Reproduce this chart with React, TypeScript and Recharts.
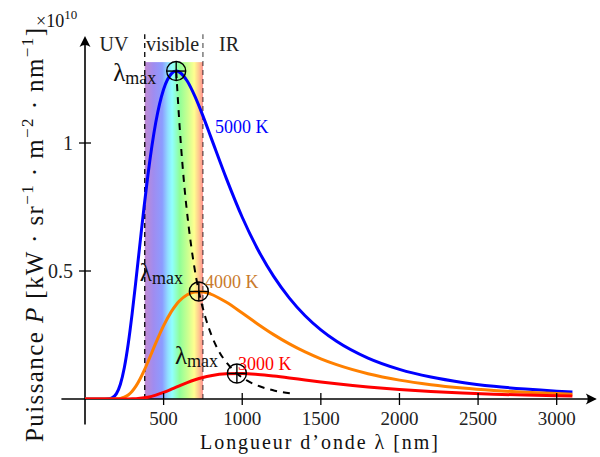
import React from 'react';
import {
  ComposedChart,
  Line,
  XAxis,
  YAxis,
  ReferenceArea,
  ReferenceLine,
  ReferenceDot,
  Scatter,
} from 'recharts';

const FONT = '"Liberation Serif", "DejaVu Serif", serif';

// ---------- data ----------
const wavelengths = [
  0, 100, 150, 175, 200, 225, 250, 275, 300, 325, 350, 375, 400, 450, 500, 550, 580, 600, 650, 700,
  750, 800, 900, 1000, 1100, 1200, 1300, 1400, 1500, 1600, 1800, 2000, 2200, 2400, 2600, 2800, 3000, 3100,
];
const power5000 = [
  0, 0, 0.0007, 0.0053, 0.021, 0.0577, 0.1223, 0.216, 0.3345, 0.469, 0.609, 0.747, 0.874, 1.08, 1.21,
  1.271, 1.281, 1.277, 1.242, 1.181, 1.106, 1.024, 0.86, 0.71, 0.583, 0.479, 0.394, 0.325, 0.27, 0.2254,
  0.1597, 0.1157, 0.0856, 0.0646, 0.0495, 0.0386, 0.0304, 0.0272,
];
const power4000 = [
  0, 0, 0, 0.0001, 0.0006, 0.0024, 0.0069, 0.0158, 0.0304, 0.0511, 0.078, 0.1096, 0.1446, 0.218, 0.2863,
  0.3422, 0.3684, 0.3825, 0.4072, 0.418, 0.4183, 0.41, 0.3776, 0.3356, 0.2922, 0.2514, 0.2152, 0.1838,
  0.1568, 0.1341, 0.0989, 0.0738, 0.056, 0.043, 0.0335, 0.0265, 0.0212, 0.019,
];
const power3000 = [
  0, 0, 0, 0, 0, 0, 0.0001, 0.0002, 0.0006, 0.0013, 0.0026, 0.0045, 0.0072, 0.0152, 0.026, 0.0386,
  0.0465, 0.0517, 0.0642, 0.0751, 0.084, 0.0908, 0.0983, 0.0993, 0.0957, 0.0896, 0.0823, 0.0744, 0.0668,
  0.0597, 0.0472, 0.0372, 0.0295, 0.0235, 0.0188, 0.0152, 0.0124, 0.0113,
];
const wienWavelengths = [580, 604, 630, 659, 690, 724, 763, 805, 852, 906, 966, 1035, 1115, 1207, 1317];
const wienPower = [1.281, 1.045, 0.844, 0.676, 0.536, 0.42, 0.325, 0.248, 0.186, 0.138, 0.0996, 0.0705, 0.0487, 0.0326, 0.0211];
const peakWavelengths = [580, 724, 966];
const peakPower = [1.281, 0.42, 0.0996];
const temperatureLabels = ['5000 K', '4000 K', '3000 K'];
const temperatureColors = ['#0000ff', '#c97a2c', '#ff0000'];
const xTicks = [500, 1000, 1500, 2000, 2500, 3000];
const yTicks = [0.5, 1];
const visibleRange = [380, 750];
const regionLabels = ['UV', 'visible', 'IR'];

// ---------- annotation placement (data coordinates) ----------
const regionLabelAt = [
  [184, 1.359],
  [557, 1.359],
  [916, 1.359],
];
const tempLabelAt = [
  [827, 1.039],
  [763, 0.434],
  [973, 0.113],
];
const lambdaOffsets = [
  [-63, 10],
  [-59, -10],
  [-62, -10],
];

// ---------- layout ----------
const W = 600;
const H = 457;
const AXIS_X = 85; // pixel of the vertical axis (x = 0)
const PLOT_BOTTOM = 399; // pixel of the horizontal axis (y = 0)
const X_MAX = 3250;
const Y_MAX = 1.418;

const toPoints = (xs: number[], ys: number[]) => xs.map((x, i) => ({ x, y: ys[i] }));
const series5000 = toPoints(wavelengths, power5000);
const series4000 = toPoints(wavelengths, power4000);
const series3000 = toPoints(wavelengths, power3000);
const wienSeries = toPoints(wienWavelengths, wienPower);
const peakSeries = peakWavelengths.map((x, i) => ({ x, y: peakPower[i], idx: i }));

const XTick = (props: any) => {
  const { x, payload } = props;
  return (
    <g>
      <line x1={x} x2={x} y1={PLOT_BOTTOM - 6} y2={PLOT_BOTTOM + 6} stroke="#000" strokeWidth={1.3} />
      <text x={x} y={PLOT_BOTTOM + 26} textAnchor="middle" fontFamily={FONT} fontSize={19} fill="#222">
        {payload.value}
      </text>
    </g>
  );
};

const YTick = (props: any) => {
  const { y, payload } = props;
  return (
    <g>
      <line x1={AXIS_X - 6} x2={AXIS_X + 6} y1={y} y2={y} stroke="#000" strokeWidth={1.3} />
      <text x={AXIS_X - 12} y={y + 7} textAnchor="end" fontFamily={FONT} fontSize={20} fill="#222">
        {payload.value}
      </text>
    </g>
  );
};

const YTitle = () => (
  <g>
    <text
      transform="translate(43,235) rotate(-90)"
      textAnchor="middle"
      fontFamily={FONT}
      fontSize={25}
      fill="#111"
      textLength={414}
      lengthAdjust="spacing"
    >
      Puissance <tspan fontStyle="italic">P</tspan> [kW · sr
      <tspan dy={-10} fontSize={17}>−1</tspan>
      <tspan dy={10}> · m</tspan>
      <tspan dy={-10} fontSize={17}>−2</tspan>
      <tspan dy={10}> · nm</tspan>
      <tspan dy={-10} fontSize={17}>−1</tspan>
      <tspan dy={10}>]</tspan>
    </text>
    <text x={36} y={27} fontFamily={FONT} fontSize={18} fill="#111">
      ×10
      <tspan dy={-8} fontSize={13}>
        10
      </tspan>
    </text>
  </g>
);

const XTitle = () => (
  <text
    x={319}
    y={449}
    textAnchor="middle"
    fontFamily={FONT}
    fontSize={20}
    fill="#111"
    textLength={238}
    lengthAdjust="spacing"
  >
    Longueur d’onde λ [nm]
  </text>
);

const SpectrumBand = (props: any) => {
  const { x, y, width, height } = props;
  return (
    <g>
      <defs>
        <linearGradient id="spectrum" x1="0" y1="0" x2="1" y2="0">
          <stop offset="0" stopColor="#c08ad0" />
          <stop offset="0.15" stopColor="#a08cf0" />
          <stop offset="0.3" stopColor="#8c9cff" />
          <stop offset="0.4" stopColor="#90e0ff" />
          <stop offset="0.47" stopColor="#90ffff" />
          <stop offset="0.6" stopColor="#90ff98" />
          <stop offset="0.75" stopColor="#d0ff90" />
          <stop offset="0.85" stopColor="#ffff90" />
          <stop offset="0.93" stopColor="#ffc890" />
          <stop offset="1" stopColor="#ff9090" />
        </linearGradient>
      </defs>
      <rect x={x} y={y} width={width} height={height} fill="url(#spectrum)" />
    </g>
  );
};

const PeakMarker = (props: any) => {
  const { cx, cy, payload } = props;
  if (cx == null || cy == null) return null;
  const i = payload?.idx ?? 0;
  const [dx, dy] = lambdaOffsets[i];
  const r = 9.5;
  return (
    <g>
      <text x={cx + dx} y={cy + dy} fontFamily={FONT} fontSize={25} fill="#111">
        λ
        <tspan dy={3} fontSize={18}>
          max
        </tspan>
      </text>
      <circle cx={cx} cy={cy} r={r} fill="none" stroke="#000" strokeWidth={1.4} />
      <line x1={cx - r} x2={cx + r} y1={cy} y2={cy} stroke="#000" strokeWidth={1.4} />
      <line x1={cx} x2={cx} y1={cy - r} y2={cy + r} stroke="#000" strokeWidth={1.4} />
    </g>
  );
};

const arrowRight = (p: any) => (
  <path
    d={`M ${p.cx} ${p.cy} L ${p.cx - 11} ${p.cy - 5.5} Q ${p.cx - 7} ${p.cy} ${p.cx - 11} ${p.cy + 5.5} Z`}
    fill="#000"
  />
);
const arrowUp = (p: any) => (
  <path
    d={`M ${p.cx} ${p.cy} L ${p.cx - 5.5} ${p.cy + 11} Q ${p.cx} ${p.cy + 7} ${p.cx + 5.5} ${p.cy + 11} Z`}
    fill="#000"
  />
);

export default function App() {
  return (
    <div style={{ position: 'absolute', left: 0, top: 0, width: W, height: H, background: '#fff' }}>
      <ComposedChart width={W} height={H} margin={{ top: 36, right: 4, bottom: 0, left: 0 }}>
        <XAxis
          type="number"
          dataKey="x"
          domain={[0, X_MAX]}
          ticks={xTicks}
          tick={<XTick />}
          axisLine={false}
          tickLine={false}
          height={58}
          allowDataOverflow
          label={<XTitle />}
        />
        <YAxis
          type="number"
          domain={[0, Y_MAX]}
          ticks={yTicks}
          tick={<YTick />}
          axisLine={false}
          tickLine={false}
          width={85}
          allowDataOverflow
          label={<YTitle />}
        />

        <ReferenceArea
          x1={visibleRange[0]}
          x2={visibleRange[1]}
          y1={0}
          y2={1.316}
          shape={<SpectrumBand />}
          ifOverflow="visible"
        />
        <ReferenceLine
          segment={[
            { x: visibleRange[0], y: 0 },
            { x: visibleRange[0], y: 1.425 },
          ]}
          stroke="#000"
          strokeWidth={1.3}
          strokeDasharray="5 4"
          ifOverflow="visible"
        />
        <ReferenceLine
          segment={[
            { x: visibleRange[1], y: 0 },
            { x: visibleRange[1], y: 1.425 },
          ]}
          stroke="#000"
          strokeOpacity={0.6}
          strokeWidth={1.3}
          strokeDasharray="5 4"
          ifOverflow="visible"
        />

        {regionLabels.map((t, i) => (
          <ReferenceDot
            key={t}
            x={regionLabelAt[i][0]}
            y={regionLabelAt[i][1]}
            r={0}
            ifOverflow="visible"
            shape={(p: any) => (
              <text x={p.cx} y={p.cy} textAnchor="middle" fontFamily={FONT} fontSize={20} fill="#222">
                {t}
              </text>
            )}
          />
        ))}

        {/* axes */}
        <ReferenceLine
          segment={[
            { x: -150, y: 0 },
            { x: X_MAX - 5, y: 0 },
          ]}
          stroke="#000"
          strokeWidth={1.6}
          ifOverflow="visible"
        />
        <ReferenceLine
          segment={[
            { x: 0, y: -0.1 },
            { x: 0, y: Y_MAX - 0.02 },
          ]}
          stroke="#000"
          strokeWidth={1.6}
          ifOverflow="visible"
        />
        <ReferenceDot x={X_MAX + 5} y={0} r={0} ifOverflow="visible" shape={arrowRight} />
        <ReferenceDot x={0} y={Y_MAX} r={0} ifOverflow="visible" shape={arrowUp} />

        <Line data={series5000} dataKey="y" type="monotone" stroke="#0000ff" strokeWidth={3} dot={false} isAnimationActive={false} />
        <Line data={series4000} dataKey="y" type="monotone" stroke="#ff8000" strokeWidth={3} dot={false} isAnimationActive={false} />
        <Line data={series3000} dataKey="y" type="monotone" stroke="#ff0000" strokeWidth={3} dot={false} isAnimationActive={false} />
        <Line
          data={wienSeries}
          dataKey="y"
          type="monotone"
          stroke="#000"
          strokeWidth={2}
          strokeDasharray="7 6"
          dot={false}
          isAnimationActive={false}
        />
        <Scatter data={peakSeries} dataKey="y" shape={<PeakMarker />} isAnimationActive={false} />

        {temperatureLabels.map((t, i) => (
          <ReferenceDot
            key={t}
            x={tempLabelAt[i][0]}
            y={tempLabelAt[i][1]}
            r={0}
            ifOverflow="visible"
            shape={(p: any) => (
              <text x={p.cx} y={p.cy} fontFamily={FONT} fontSize={18} fill={temperatureColors[i]}>
                {t}
              </text>
            )}
          />
        ))}
      </ComposedChart>
    </div>
  );
}
